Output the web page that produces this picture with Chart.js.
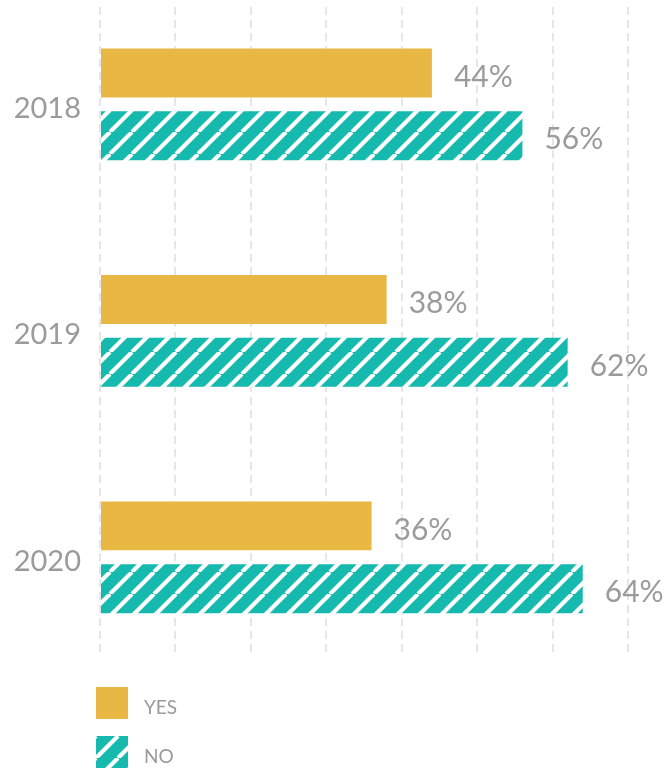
<!DOCTYPE html>
<html>
<head>
<meta charset="utf-8">
<script src="https://cdn.jsdelivr.net/npm/chart.js@4/dist/chart.umd.min.js"></script>
<style>
  body { margin: 0; background: #fff; font-family: Lato, sans-serif; }
  #wrap { position: relative; width: 667px; height: 769px; }
  #legend { position: absolute; left: 96px; top: 687px; }
  .item { display: flex; align-items: center; height: 32px; margin-bottom: 17px; }
  .item canvas { width: 32px; height: 32px; }
  .item span { margin-left: 16px; font-size: 19px; color: #9b9b9b; padding-top: 6px; }
</style>
</head>
<body>
<div id="wrap">
  <canvas id="chart"></canvas>
  <div id="legend"></div>
</div>
<script>
const years = ['2018', '2019', '2020']
const yesValues = [44, 38, 36]
const noValues = [56, 62, 64]
const xMin = 0
const xMax = 70
const xStep = 10

const gold = '#e8b744'
const teal = '#16b9ad'
const grey = '#9b9b9b'

// diagonal white stripes over a solid fill
function hatch(ctx, color) {
  const size = 22
  const tile = document.createElement('canvas')
  tile.width = tile.height = size
  const g = tile.getContext('2d')
  g.fillStyle = color
  g.fillRect(0, 0, size, size)
  g.strokeStyle = '#fff'
  g.lineWidth = 4.2
  g.beginPath()
  for (const o of [-size, 0, size]) {
    g.moveTo(o, size)
    g.lineTo(o + size, 0)
  }
  g.stroke()
  return ctx.createPattern(tile, 'repeat')
}

// percent label just past the end of each bar
const barLabels = {
  id: 'barLabels',
  afterDatasetsDraw(chart) {
    const { ctx } = chart
    ctx.save()
    ctx.font = '30px Lato'
    ctx.fillStyle = grey
    ctx.textBaseline = 'middle'
    chart.data.datasets.forEach((ds, i) => {
      chart.getDatasetMeta(i).data.forEach((bar, j) => {
        ctx.fillText(ds.data[j].x + '%', bar.x + 22, bar.y + 4)
      })
    })
    ctx.restore()
  }
}

const canvas = document.getElementById('chart')
const ctx = canvas.getContext('2d')

const datasets = [
  {
    label: 'YES',
    data: yesValues.map((v, i) => ({ x: v, y: i })),
    backgroundColor: gold,
    swatch: (c) => gold
  },
  {
    label: 'NO',
    data: noValues.map((v, i) => ({ x: v, y: i })),
    backgroundColor: hatch(ctx, teal),
    swatch: (c) => hatch(c, teal)
  }
]

const chart = new Chart(canvas, {
  type: 'bar',
  data: { datasets },
  plugins: [barLabels],
  options: {
    indexAxis: 'y',
    responsive: true,
    maintainAspectRatio: false,
    animation: false,
    categoryPercentage: 0.555,
    barPercentage: 0.778,
    layout: { padding: { top: 7, right: 39, bottom: 112, left: 0 } },
    plugins: {
      legend: { display: false },
      tooltip: { enabled: false }
    },
    scales: {
      x: {
        type: 'linear',
        min: xMin,
        max: xMax,
        ticks: { display: false, stepSize: xStep },
        grid: { color: '#e6e6e6', lineWidth: 2, drawTicks: false },
        border: { display: false, dash: [8, 5] }
      },
      y: {
        type: 'linear',
        reverse: true,
        offset: false,
        min: -0.43,
        max: 2.44,
        afterFit: (s) => {
          s.width = 100
          s.paddingTop = 0
          s.paddingBottom = 0
        },
        grid: { display: false },
        border: { display: false },
        ticks: {
          stepSize: 1,
          includeBounds: false,
          padding: 11,
          labelOffset: 4,
          color: grey,
          font: { family: 'Lato', size: 29 },
          callback: (v) => years[v]
        }
      }
    }
  }
})

// legend stacked under the plot
const legend = document.getElementById('legend')
datasets.forEach((ds) => {
  const item = document.createElement('div')
  item.className = 'item'
  const box = document.createElement('canvas')
  box.width = box.height = 32
  const bc = box.getContext('2d')
  bc.fillStyle = ds.swatch(bc)
  bc.fillRect(0, 0, 32, 32)
  const text = document.createElement('span')
  text.textContent = ds.label
  item.appendChild(box)
  item.appendChild(text)
  legend.appendChild(item)
})
</script>
</body>
</html>
